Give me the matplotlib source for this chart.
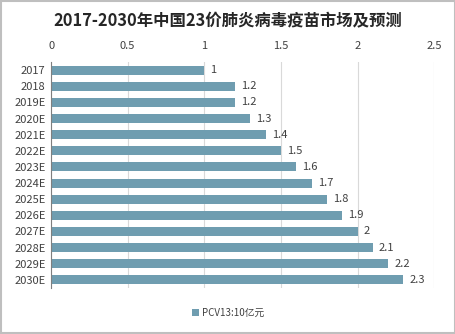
import matplotlib.pyplot as plt
from matplotlib.patches import Rectangle

plt.rcParams["font.family"] = ["Noto Sans CJK SC", "DejaVu Sans"]

years = ["2017", "2018", "2019E", "2020E", "2021E", "2022E", "2023E",
         "2024E", "2025E", "2026E", "2027E", "2028E", "2029E", "2030E"]
values = [1, 1.2, 1.2, 1.3, 1.4, 1.5, 1.6, 1.7, 1.8, 1.9, 2, 2.1, 2.2, 2.3]
series_name = "PCV13:10亿元"
title = "2017-2030年中国23价肺炎病毒疫苗市场及预测"

bar_color = "#6f9db0"
text_color = "#404040"

fig = plt.figure(figsize=(4.56, 3.34), dpi=100)
ax = fig.add_axes([0.112, 0.138, 0.84, 0.676])

y = list(range(len(years)))
ax.barh(y, values, height=0.56, color=bar_color, label=series_name, zorder=2)
for yi, v in zip(y, values):
    ax.text(v + 0.04, yi, f"{v:g}", va="center", ha="left", fontsize=8,
            color=text_color)

ax.set_xlim(0, 2.5)
ax.set_ylim(len(years) - 0.5, -0.5)
ax.set_yticks(y)
ax.set_yticklabels(years)
ax.set_xticks([0, 0.5, 1, 1.5, 2, 2.5])
ax.set_xticklabels(["0", "0.5", "1", "1.5", "2", "2.5"])
ax.xaxis.tick_top()
ax.tick_params(axis="both", length=0, labelsize=8, colors=text_color)
ax.tick_params(axis="x", pad=8)
ax.tick_params(axis="y", pad=4)
ax.grid(axis="x", color="#d9d9d9", linewidth=0.8, zorder=0)
for s in ["top", "right", "bottom"]:
    ax.spines[s].set_visible(False)
ax.spines["left"].set_color("#7f7f7f")
ax.spines["left"].set_linewidth(0.8)

fig.text(0.5, 0.937, title, ha="center", va="center", fontsize=11.8,
         fontweight="bold", color="#262626")

fig.legend(loc="center", bbox_to_anchor=(0.5, 0.063), frameon=False,
           fontsize=7, handlelength=0.7, handleheight=0.7, handletextpad=0.3,
           labelcolor=text_color)

fig.patches.append(Rectangle((0.002, 0.004), 0.995, 0.993, transform=fig.transFigure,
                             fill=False, edgecolor="#bfbfbf", linewidth=1.5))

fig.savefig("out.png", dpi=100)
